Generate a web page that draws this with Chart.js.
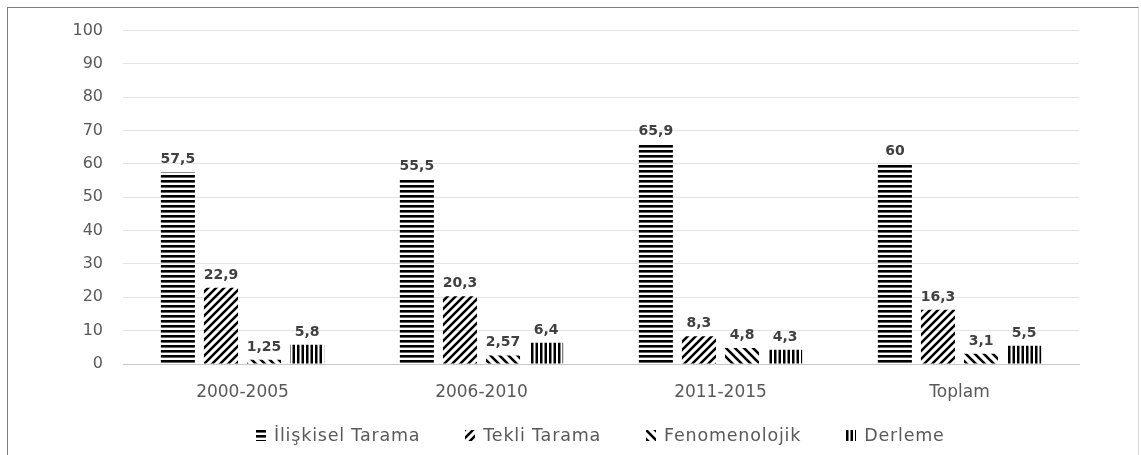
<!DOCTYPE html>
<html>
<head>
<meta charset="utf-8">
<script src="https://cdn.jsdelivr.net/npm/chart.js@4.4.1/dist/chart.umd.min.js"></script>
<style>
  body { margin: 0; background: #fff; }
  #wrap { position: relative; width: 1141px; height: 455px; overflow: hidden; }
  #frame { position: absolute; left: 7px; top: 7px; width: 1130px; height: 470px;
           border-left: 1px solid #7f7f7f; border-top: 1px solid #7f7f7f; border-right: 1px solid #d9d9d9; }
  #chart { position: absolute; left: 0; top: 0; }
  #legend { position: absolute; left: 256px; top: 425px; display: flex; align-items: center;
            font-family: "DejaVu Sans", sans-serif; font-size: 17.5px; letter-spacing: 0.8px;
            color: #595959; line-height: 20px; white-space: nowrap; }
  #legend .item { display: flex; align-items: center; margin-right: 45px; }
  #legend canvas { margin-right: 8px; }
</style>
</head>
<body>
<div id="wrap">
  <div id="frame"></div>
  <canvas id="chart" width="1141" height="455"></canvas>
  <div id="legend"></div>
</div>
<script>
const categories = ["2000-2005", "2006-2010", "2011-2015", "Toplam"];
const seriesNames = ["İlişkisel Tarama", "Tekli Tarama", "Fenomenolojik", "Derleme"];
const iliskisel = [57.5, 55.5, 65.9, 60];
const tekli = [22.9, 20.3, 8.3, 16.3];
const fenomen = [1.25, 2.57, 4.8, 3.1];
const derleme = [5.8, 6.4, 4.3, 5.5];
const yTicks = [0, 10, 20, 30, 40, 50, 60, 70, 80, 90, 100];

// pattern tiles
function makePattern(kind) {
  const c = document.createElement("canvas");
  const x = c.getContext("2d");
  if (kind === "h") {
    c.width = 5; c.height = 5;
    x.fillStyle = "#000";
    x.fillRect(0, 0, 5, 2.6);
  } else if (kind === "v") {
    c.width = 9; c.height = 9;
    x.fillStyle = "#000";
    x.fillRect(0, 0, 2.5, 9);
    x.fillRect(4.5, 0, 2.5, 9);
  } else if (kind === "up") {
    const s = 8;
    c.width = s; c.height = s;
    x.strokeStyle = "#000"; x.lineWidth = 2.5;
    x.beginPath();
    x.moveTo(-s, s * 2); x.lineTo(s * 2, -s);
    x.moveTo(-s, s); x.lineTo(s, -s);
    x.moveTo(0, s * 2); x.lineTo(s * 2, 0);
    x.stroke();
  } else {
    const s = 9;
    c.width = s; c.height = s;
    x.strokeStyle = "#000"; x.lineWidth = 2.6;
    x.beginPath();
    x.moveTo(-s, -s); x.lineTo(s * 2, s * 2);
    x.moveTo(-s, 0); x.lineTo(s, s * 2);
    x.moveTo(0, -s); x.lineTo(s * 2, s);
    x.stroke();
  }
  return c;
}

const ctx = document.getElementById("chart").getContext("2d");
const kinds = ["h", "up", "down", "v"];
const patterns = kinds.map(k => ctx.createPattern(makePattern(k), "repeat"));
const values = [iliskisel, tekli, fenomen, derleme];

const labelPlugin = {
  id: "barLabels",
  afterDatasetsDraw(chart) {
    const c = chart.ctx;
    c.save();
    c.font = "bold 14px 'DejaVu Sans'";
    c.fillStyle = "#404040";
    c.textAlign = "center";
    c.textBaseline = "alphabetic";
    chart.data.datasets.forEach((ds, i) => {
      chart.getDatasetMeta(i).data.forEach((bar, j) => {
        const txt = String(ds.data[j]).replace(".", ",");
        c.fillText(txt, bar.x, bar.y - 9);
      });
    });
    c.restore();
  }
};

new Chart(ctx, {
  type: "bar",
  data: {
    labels: categories,
    datasets: values.map((v, i) => ({
      label: seriesNames[i],
      data: v,
      backgroundColor: patterns[i],
      borderWidth: 0,
      categoryPercentage: 0.721,
      barPercentage: 0.79
    }))
  },
  options: {
    responsive: false,
    animation: false,
    layout: { padding: { left: 0, right: 62, top: 30.5, bottom: 41 } },
    plugins: {
      legend: { display: false },
      tooltip: { enabled: false }
    },
    scales: {
      x: {
        grid: { display: false, drawTicks: false },
        border: { display: true, color: "#c8c8c8" },
        ticks: { color: "#595959", font: { family: "DejaVu Sans", size: 17 }, padding: 18 },
        afterFit: s => { s.height = 50; }
      },
      y: {
        min: 0,
        max: 100,
        afterBuildTicks: s => { s.ticks = yTicks.map(v => ({ value: v })); },
        grid: { color: c => c.tick.value === 0 ? "#c8c8c8" : "#e3e3e3", drawTicks: false },
        border: { display: false },
        ticks: { color: "#595959", font: { family: "DejaVu Sans", size: 16 }, padding: 20 },
        afterFit: s => { s.width = 123; }
      }
    }
  },
  plugins: [labelPlugin]
});

// legend
const legend = document.getElementById("legend");
seriesNames.forEach((name, i) => {
  const item = document.createElement("div");
  item.className = "item";
  const sw = document.createElement("canvas");
  sw.width = 10; sw.height = 11;
  const sctx = sw.getContext("2d");
  sctx.fillStyle = sctx.createPattern(makePattern(kinds[i]), "repeat");
  sctx.fillRect(0, 0, 10, 11);
  const t = document.createElement("span");
  t.textContent = name;
  item.appendChild(sw);
  item.appendChild(t);
  legend.appendChild(item);
});
</script>
</body>
</html>
